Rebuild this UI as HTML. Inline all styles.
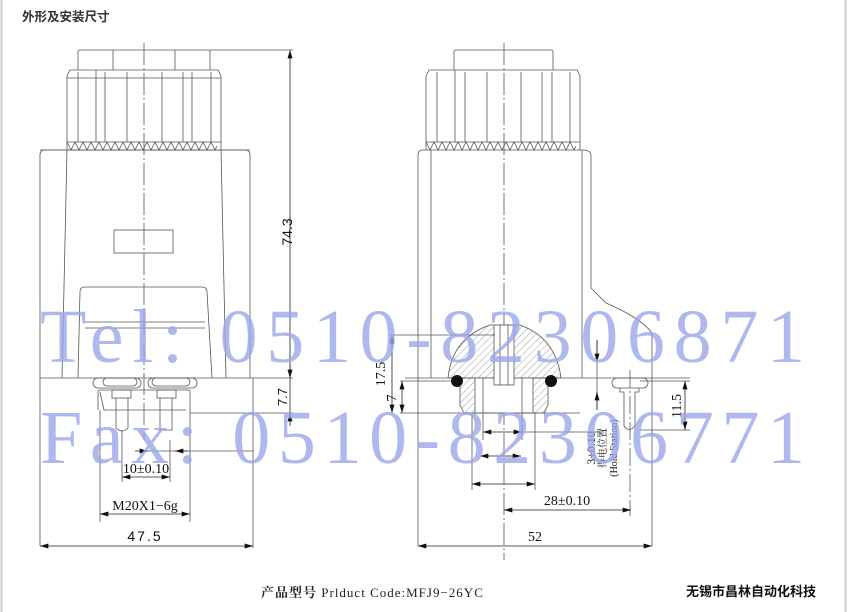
<!DOCTYPE html>
<html><head><meta charset="utf-8"><style>
html,body{margin:0;padding:0;background:#fff}
svg{display:block}
</style></head><body>
<svg width="850" height="612" viewBox="0 0 850 612" xmlns="http://www.w3.org/2000/svg">
<defs>
<pattern id="h" width="5" height="5" patternUnits="userSpaceOnUse" patternTransform="rotate(45)">
<line x1="0" y1="0" x2="0" y2="5" stroke="#777" stroke-width="0.7"/></pattern>
<marker id="a" viewBox="0 0 10 6" refX="10" refY="3" markerWidth="9" markerHeight="5" orient="auto-start-reverse" markerUnits="userSpaceOnUse"><path d="M0 0L10 3L0 6z" fill="#111"/></marker>
</defs>
<rect x="0" y="0" width="850" height="612" fill="#fff"/>
<line x1="1.5" y1="0" x2="1.5" y2="612" stroke="#ccc" stroke-width="2"/>
<line x1="845.5" y1="0" x2="845.5" y2="612" stroke="#ccc" stroke-width="2"/>
<text x="22" y="21" font-family="Liberation Sans, Noto Sans CJK SC, sans-serif" font-size="12.5" font-weight="bold" fill="#333">外形及安装尺寸</text>

<g fill="none" stroke="#555" stroke-width="0.8">
<path d="M78 70V52q0-2 2-2h128q2 0 2 2v18"/>
<line x1="113" y1="50" x2="113" y2="70"/><line x1="175" y1="50" x2="175" y2="70"/>
<path d="M67 150V76l3-6h148l3 6v74"/>
<line x1="67" y1="78" x2="221" y2="78"/>
<path d="M78 142V72M96 142V70M105 142V72M127 142V72M162 142V72M183 142V72M192 142V72M211 142V72"/>
<line x1="67" y1="142" x2="221" y2="142"/>
<path d="M67 142l4 8l4-8l4 8l4-8l4 8l4-8l4 8l4-8l4 8l4-8l4 8l4-8l4 8l4-8l4 8l4-8l4 8l4-8l4 8l4-8l4 8l4-8l4 8l4-8l4 8l4-8l4 8l4-8l4 8l4-8l4 8l4-8l4 8l4-8l4 8l4-8l4 8l2-4"/>
<path d="M40 546V155q0-5 5-5h200q5 0 5 5v223"/>
<line x1="253" y1="378" x2="253" y2="548"/>
<line x1="67" y1="150" x2="62" y2="378"/><line x1="221" y1="150" x2="226" y2="378"/>
<line x1="40" y1="150" x2="250" y2="150"/>
<rect x="114" y="230" width="59" height="23"/>
<path d="M78 378L80 292q0-5 5-5h117q5 0 5 5L212 378"/>
<line x1="85" y1="322" x2="205" y2="322"/><line x1="85" y1="328" x2="205" y2="328"/>
<line x1="40" y1="378" x2="293" y2="378"/>
<rect x="93" y="378" width="48" height="10" rx="5"/><rect x="103" y="378" width="34" height="8" rx="4"/>
<rect x="148" y="378" width="49" height="10" rx="5"/><rect x="152" y="378" width="38" height="8" rx="4"/>
<path d="M98 410V392q0-2 2-2h88q2 0 2 2v18"/>
<path d="M100 392l4 18h82"/>
<rect x="112" y="390" width="19" height="8"/><path d="M116 398v30q6 6 12 0v-30"/>
<rect x="157" y="390" width="19" height="8"/><path d="M160 398v32h12v-32"/>
<line x1="100" y1="410" x2="100" y2="522"/><line x1="190" y1="410" x2="190" y2="522"/>
<line x1="122" y1="430" x2="122" y2="482"/><line x1="170" y1="440" x2="170" y2="482"/>
<line x1="144" y1="43" x2="144" y2="440" stroke-dasharray="22 3 2 3"/>
<line x1="190" y1="413" x2="293" y2="413"/>
<line x1="148" y1="451" x2="253" y2="451"/>
<line x1="210" y1="50" x2="293" y2="50"/>
</g>
<g stroke="#222" stroke-width="0.8" fill="none">
<line x1="290" y1="50" x2="290" y2="378" marker-start="url(#a)"/>
<line x1="290" y1="365" x2="290" y2="378" marker-end="url(#a)"/>
<line x1="290" y1="426" x2="290" y2="413" marker-end="url(#a)"/>
<line x1="290" y1="378" x2="290" y2="413"/>
<line x1="122" y1="477" x2="170" y2="477" marker-start="url(#a)" marker-end="url(#a)"/>
<line x1="135" y1="451" x2="148" y2="451" marker-end="url(#a)"/>
<line x1="188" y1="451" x2="175" y2="451" marker-end="url(#a)"/>
<line x1="100" y1="514" x2="190" y2="514" marker-start="url(#a)" marker-end="url(#a)"/>
<line x1="40" y1="546" x2="253" y2="546" marker-start="url(#a)" marker-end="url(#a)"/>
</g>
<g font-family="Liberation Serif, serif" font-size="14" fill="#111">
<text x="146" y="473" text-anchor="middle">10±0.10</text>
<text x="145" y="510" text-anchor="middle">M20X1−6g</text>
<text x="145" y="541" text-anchor="middle" font-family="Liberation Sans, sans-serif" letter-spacing="2">47.5</text>
<text transform="translate(292,232) rotate(-90)" text-anchor="middle" font-family="Liberation Sans, sans-serif" font-size="14">74.3</text>
<text transform="translate(287,397) rotate(-90)" text-anchor="middle" font-family="Liberation Sans, sans-serif" font-size="13">7.7</text>
</g>

<g fill="none" stroke="#555" stroke-width="0.8">
<path d="M454 70V52q0-2 2-2h95q2 0 2 2v18"/>
<path d="M426 150V76l3-6h148l3 6v74"/>
<path d="M437 142V72M455 142V70M465 142V72M487 142V72M521 142V72M542 142V72M552 142V72M570 142V72"/>
<line x1="426" y1="142" x2="580" y2="142"/>
<path d="M426 142l4 8l4-8l4 8l4-8l4 8l4-8l4 8l4-8l4 8l4-8l4 8l4-8l4 8l4-8l4 8l4-8l4 8l4-8l4 8l4-8l4 8l4-8l4 8l4-8l4 8l4-8l4 8l4-8l4 8l4-8l4 8l4-8l4 8l4-8l4 8l4-8l4 8l2-4"/>
<path d="M418 546V155q0-5 5-5h160"/>
<line x1="431" y1="150" x2="431" y2="378"/>
<line x1="582" y1="150" x2="582" y2="378"/>
<path d="M583 150q8 0 8 6V288l15 15q35 15 46 30V546"/>
<line x1="405" y1="378" x2="690" y2="378"/>
<line x1="504" y1="43" x2="504" y2="560" stroke-dasharray="22 3 2 3"/>
<path d="M448 378Q452 338 490 325H520Q556 338 561 378Z" fill="url(#h)"/>
<path d="M460 378V405l4 8h80l4-8V378Z" fill="url(#h)"/>
<rect x="475" y="378" width="58" height="35" fill="#fff"/>
<rect x="494" y="325" width="20" height="60" fill="#fff"/>
<line x1="500" y1="325" x2="500" y2="385"/><line x1="508" y1="325" x2="508" y2="385"/>
<line x1="483" y1="378" x2="483" y2="440"/><line x1="522" y1="378" x2="522" y2="440"/>
<line x1="472" y1="413" x2="472" y2="490"/><line x1="535" y1="413" x2="535" y2="490"/>
<line x1="400" y1="413" x2="580" y2="413"/>
<line x1="390" y1="335" x2="495" y2="335"/>
<line x1="400" y1="381" x2="455" y2="381"/>
<line x1="522" y1="432" x2="600" y2="432"/>
<rect x="612" y="378" width="36" height="10" rx="5"/>
<path d="M620 388v4h4v34q5 7 11 0v-34h4v-4"/>
<line x1="630" y1="370" x2="630" y2="516" stroke-dasharray="18 3 2 3"/>
<line x1="640" y1="381" x2="690" y2="381"/>
<line x1="640" y1="430" x2="690" y2="430"/>
<line x1="597" y1="340" x2="597" y2="410"/>
</g>
<circle cx="457" cy="381" r="6" fill="#111"/>
<circle cx="551" cy="381" r="6" fill="#111"/>
<g stroke="#222" stroke-width="0.8" fill="none">
<line x1="392" y1="335" x2="392" y2="413" marker-start="url(#a)" marker-end="url(#a)"/>
<line x1="402" y1="381" x2="402" y2="413" marker-start="url(#a)" marker-end="url(#a)"/>
<line x1="597" y1="340" x2="597" y2="362" marker-end="url(#a)"/>
<line x1="597" y1="410" x2="597" y2="392" marker-end="url(#a)"/>
<line x1="685" y1="381" x2="685" y2="430" marker-start="url(#a)" marker-end="url(#a)"/>
<line x1="483" y1="432" x2="522" y2="432" marker-start="url(#a)" marker-end="url(#a)"/>
<line x1="480" y1="456" x2="521" y2="456" marker-start="url(#a)" marker-end="url(#a)"/>
<line x1="472" y1="484" x2="535" y2="484" marker-start="url(#a)" marker-end="url(#a)"/>
<line x1="504" y1="510" x2="631" y2="510" marker-start="url(#a)" marker-end="url(#a)"/>
<line x1="418" y1="546" x2="652" y2="546" marker-start="url(#a)" marker-end="url(#a)"/>
</g>
<g font-family="Liberation Serif, serif" font-size="14" fill="#111">
<text transform="translate(385,374) rotate(-90)" text-anchor="middle">17.5</text>
<text transform="translate(396,398) rotate(-90)" text-anchor="middle">7</text>
<text transform="translate(681,406) rotate(-90)" text-anchor="middle">11.5</text>
<text transform="translate(595,448) rotate(-90)" text-anchor="middle" font-size="12">3±0.10</text>
<text transform="translate(606,448) rotate(-90)" text-anchor="middle" font-size="10" font-family="Liberation Serif, Noto Serif CJK SC, serif">得电位置</text>
<text transform="translate(617,448) rotate(-90)" text-anchor="middle" font-size="10">(Hold Station)</text>
<text x="567" y="505" text-anchor="middle">28±0.10</text>
<text x="535" y="541" text-anchor="middle">52</text>
</g>

<g font-family="Liberation Serif, serif" font-size="76" fill="#9aa6e8" fill-opacity="0.8">
<text x="40" y="362" textLength="765" lengthAdjust="spacing">Tel: 0510-82306871</text>
<text x="40" y="463" textLength="765" lengthAdjust="spacing">Fax: 0510-82306771</text>
</g>

<text x="261" y="597" font-family="Liberation Serif, Noto Serif CJK SC, serif" font-size="13" fill="#222" letter-spacing="1"><tspan font-weight="bold">产品型号</tspan> Prlduct Code:MFJ9−26YC</text>
<text x="686" y="596" font-family="Liberation Sans, Noto Sans CJK SC, sans-serif" font-size="13" font-weight="bold" fill="#111">无锡市昌林自动化科技</text>
</svg>
</body></html>
